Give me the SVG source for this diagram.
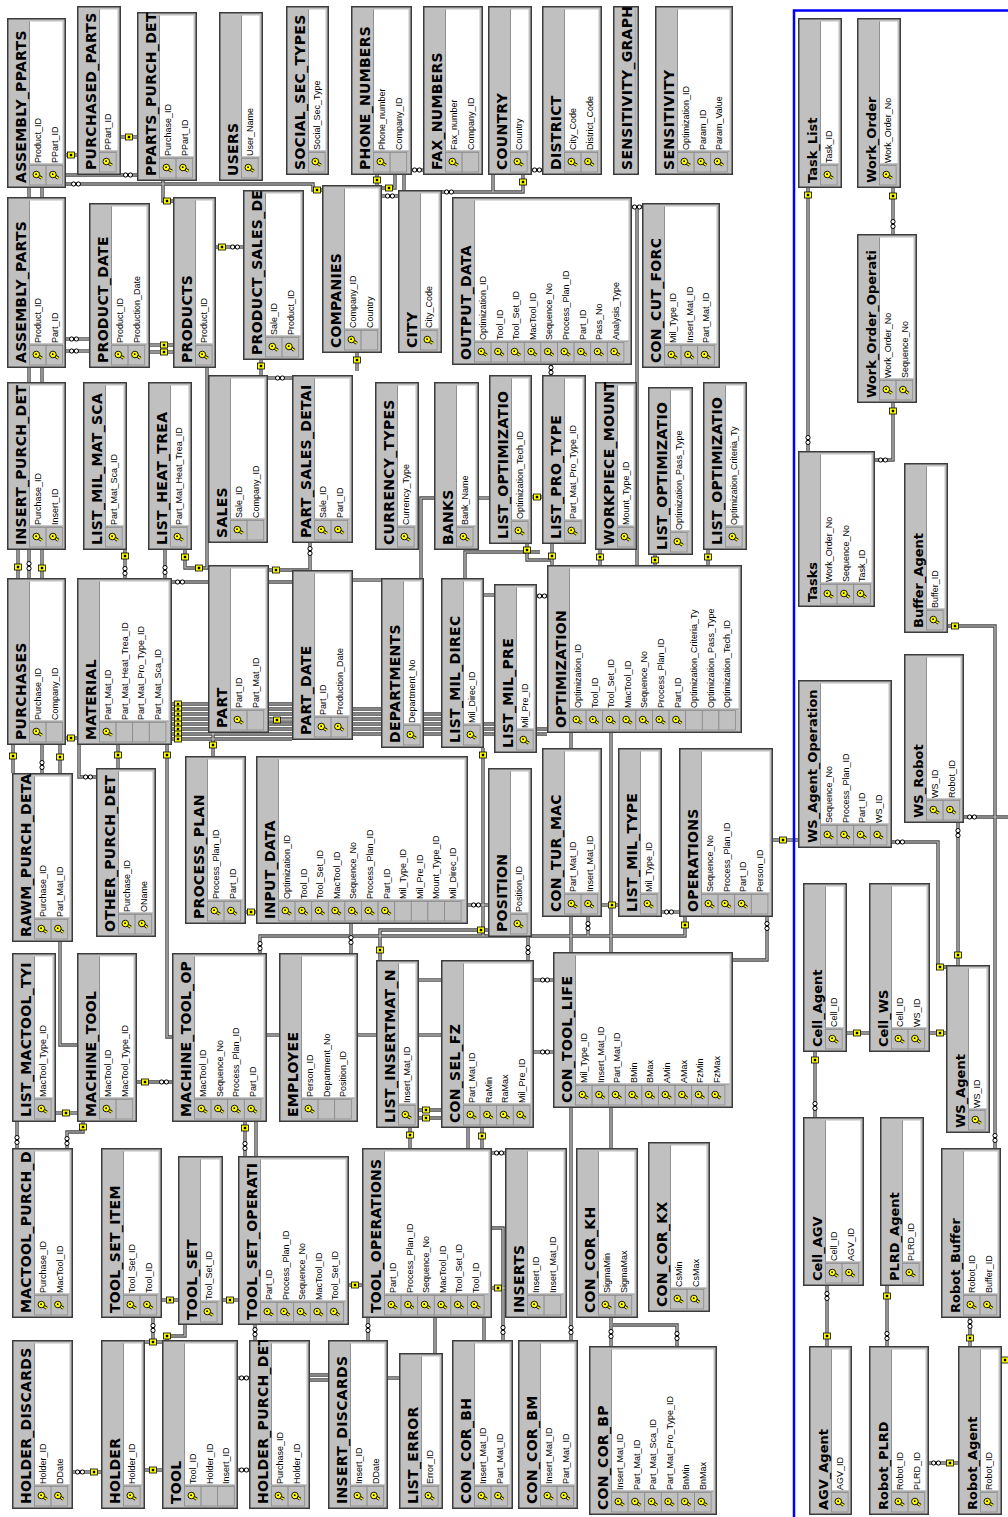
<svg xmlns="http://www.w3.org/2000/svg" xmlns:xlink="http://www.w3.org/1999/xlink" width="1008" height="1517" viewBox="0 0 1008 1517">
<defs>
<style>
.t text{font-family:"Liberation Sans",Arial,sans-serif;font-size:9px;fill:#000}
.t .tt{font-family:"DejaVu Sans",Verdana,sans-serif;font-size:14px;font-weight:bold;letter-spacing:.3px}
.t .tm{font-family:"DejaVu Sans",Verdana,sans-serif;font-size:13px;font-weight:bold}
.bg{fill:#c0c0c0}
.wp{fill:#fff;stroke:#909090;stroke-width:1}
.mg{fill:none;stroke:#c0c0c0;stroke-width:7}
.ol{fill:none;stroke:#3c3c3c;stroke-width:3}
.kc{fill:#c0c0c0;stroke:#8a8a8a;stroke-width:.8}
.eo{fill:none;stroke:#454545;stroke-width:3.4}
.ei{fill:none;stroke:#c8c8c8;stroke-width:1.2}
.sy circle{fill:#fff;stroke:#000;stroke-width:1}
</style>
<g id="fr"><rect class="bg" width="100%" height="100%"/><rect class="wp" x="24" y="22.5" width="100%" height="100%"/><rect class="mg" width="100%" height="100%"/><rect class="ol" width="100%" height="100%"/></g>
<g id="k"><path d="M1,-1.5 L-2.8,4" stroke="#000" stroke-width="3.2"/><path d="M1,-1.5 L-2.8,4" stroke="#ff0" stroke-width="1.5"/><circle cx="1" cy="-1.5" r="3.3" fill="#ff0" stroke="#000" stroke-width=".9"/><circle cx="1.3" cy="-1.7" r=".9" fill="#000"/></g>
<g id="r"><rect class="kc" x="3" width="19.5" height="16.6"/><use href="#k" x="12.5" y="8.3"/></g>
<rect id="e" class="kc" x="3" width="19.5" height="16.6"/>
<g id="ek"><rect x="-3.5" y="-3" width="7" height="6" fill="#ff0" stroke="#000" stroke-width=".8"/><rect x="-1.2" y="-1.2" width="2.4" height="2.4" fill="#000"/></g>
<g id="inf" class="sy"><circle cx="-2.4" r="2.1"/><circle cx="2.4" r="2.1"/></g>
<g id="infv" class="sy"><circle cy="-2.4" r="2.1"/><circle cy="2.4" r="2.1"/></g>
</defs>
<rect width="1008" height="1517" fill="#fff"/>
<g id="connectors">
<g class="eo"><g id="cp">
<path d="M121,137H137"/><path d="M66,155H77"/><path d="M66,175H137"/><path d="M66,184H313V190H322"/><path d="M163,181V201H173"/>
<path d="M29,188V578"/><path d="M42,188V578"/><path d="M66,339H89"/><path d="M66,351H89"/><path d="M150,345H173"/><path d="M150,352H173"/>
<path d="M216,247H243"/><path d="M261,360V375"/><path d="M268,378H292"/><path d="M207,368V568H185V550"/>
<path d="M377,175V185"/><path d="M382,188H395V175"/><path d="M382,196H398"/><path d="M404,175V190"/><path d="M412,170H423"/>
<path d="M442,192H523V175"/><path d="M493,175V192"/><path d="M532,170H542"/><path d="M632,207H642"/><path d="M637,207V565"/><path d="M551,365V375"/>
<path d="M18,550V578"/><path d="M125,550V578"/><path d="M165,550V578"/><path d="M172,582H292"/><path d="M269,570H310V543"/>
<path d="M172,704H292M172,709H381M172,714H441M172,719H441M172,724H494M172,729H547M172,734H547M172,739H292"/>
<path d="M269,720H292"/><path d="M66,738H77"/><path d="M434,498H421V578"/><path d="M479,498H489"/><path d="M532,497H542"/>
<path d="M527,544V560H552"/><path d="M552,544V565"/><path d="M600,550V565"/><path d="M465,578V552H540"/><path d="M708,550V565"/><path d="M655,555V565"/>
<path d="M537,596H547"/><path d="M484,595H494"/><path d="M353,580H381"/><path d="M357,353V371"/>
<path d="M13,745V773"/><path d="M42,745V773"/><path d="M60,745V773"/><path d="M118,745V768"/><path d="M167,745V1037H172"/><path d="M79,745V777H96"/>
<path d="M60,942V1045H77"/><path d="M137,1082H172"/><path d="M56,1113H77"/><path d="M17,1122V1148"/><path d="M83,1122V1132H67V1148"/>
<path d="M246,912H256"/><path d="M213,733V756"/><path d="M260,953V936H685V917"/><path d="M267,1035H279"/><path d="M245,1122V1156"/><path d="M256,1122V1156"/>
<path d="M468,905H488"/><path d="M488,930H380V960"/><path d="M528,937V960"/><path d="M483,748V936"/><path d="M602,905H618"/><path d="M588,917V936"/><path d="M662,912H679"/>
<path d="M571,733V1340"/><path d="M611,733V1346"/><path d="M419,1110H441M419,1118H441"/><path d="M534,980H553"/><path d="M534,1052H553"/><path d="M419,980H441"/><path d="M419,1035H441"/>
<path d="M358,1035H376"/><path d="M351,924V953"/><path d="M773,840H798"/><path d="M767,917V960H733"/>
<path d="M892,842H938V967H946"/><path d="M958,823V965"/><path d="M964,817H1008"/><path d="M948,626H995V1148"/><path d="M847,1033H869"/><path d="M930,1033H946"/>
<path d="M815,1052V1117"/><path d="M827,1286V1346"/><path d="M887,1286V1346"/><path d="M970,1318V1346"/><path d="M929,1463H958"/><path d="M1002,1360H1008"/>
<path d="M808,188V451"/><path d="M893,188V234"/><path d="M893,403V460H875"/>
<path d="M162,1300H178"/><path d="M223,1300H238"/><path d="M153,1318V1340"/><path d="M185,1325V1336H167V1340"/><path d="M145,1342H162"/><path d="M145,1470H162"/><path d="M73,1472H101"/>
<path d="M238,1378H249"/><path d="M238,1470H249"/><path d="M255,1325V1340"/><path d="M310,1375H328M310,1380H328"/><path d="M349,1285H362"/><path d="M368,1318V1340"/>
<path d="M435,1318V1353"/><path d="M388,1378H399"/><path d="M484,1318V1340"/><path d="M492,1153H505"/><path d="M492,1288H505"/><path d="M492,1228H503V1340"/>
<path d="M613,1325H677V1346"/><path d="M468,1128V1148"/><path d="M482,1128V1148"/><path d="M410,1128V1148"/>
</g></g>
<use href="#cp" class="ei"/>
<g id="ends">
<use href="#ek" x="129" y="137"/><use href="#ek" x="71" y="155"/><use href="#inf" x="128" y="175"/><use href="#inf" x="76" y="184"/><use href="#ek" x="317" y="190"/><use href="#ek" x="167" y="201"/>
<use href="#inf" x="74" y="339"/><use href="#inf" x="74" y="351"/><use href="#ek" x="164" y="345"/><use href="#ek" x="164" y="352"/><use href="#ek" x="222" y="247"/><use href="#inf" x="235" y="247"/>
<use href="#ek" x="261" y="366"/><use href="#inf" x="280" y="378"/><use href="#ek" x="199" y="568"/><use href="#ek" x="185" y="557"/>
<use href="#ek" x="377" y="180"/><use href="#ek" x="389" y="188"/><use href="#inf" x="390" y="196"/><use href="#inf" x="417" y="170"/><use href="#inf" x="449" y="192"/><use href="#ek" x="523" y="182"/>
<use href="#inf" x="537" y="170"/><use href="#inf" x="637" y="207"/><use href="#infv" x="551" y="370"/>
<use href="#ek" x="18" y="567"/><use href="#infv" x="29" y="566"/><use href="#ek" x="42" y="568"/><use href="#ek" x="125" y="556"/><use href="#infv" x="125" y="571"/><use href="#infv" x="165" y="570"/>
<use href="#inf" x="180" y="582"/><use href="#ek" x="276" y="570"/><use href="#infv" x="310" y="551"/>
<use href="#ek" x="178" y="704"/><use href="#ek" x="178" y="709"/><use href="#ek" x="178" y="714"/><use href="#ek" x="178" y="719"/><use href="#ek" x="178" y="724"/><use href="#ek" x="178" y="729"/><use href="#ek" x="178" y="734"/><use href="#ek" x="178" y="739"/>
<use href="#ek" x="277" y="720"/><use href="#ek" x="71" y="738"/><use href="#ek" x="537" y="497"/><use href="#ek" x="527" y="550"/><use href="#ek" x="552" y="556"/><use href="#ek" x="600" y="557"/><use href="#ek" x="708" y="557"/><use href="#ek" x="655" y="560"/>
<use href="#inf" x="542" y="596"/><use href="#ek" x="357" y="360"/>
<use href="#ek" x="13" y="756"/><use href="#infv" x="42" y="765"/><use href="#ek" x="60" y="757"/><use href="#ek" x="118" y="755"/><use href="#ek" x="167" y="755"/><use href="#inf" x="88" y="777"/>
<use href="#ek" x="145" y="1082"/><use href="#inf" x="164" y="1082"/><use href="#ek" x="66" y="1113"/><use href="#infv" x="17" y="1140"/><use href="#ek" x="83" y="1127"/><use href="#infv" x="67" y="1141"/>
<use href="#ek" x="251" y="912"/><use href="#ek" x="213" y="745"/><use href="#infv" x="260" y="946"/><use href="#ek" x="685" y="925"/><use href="#ek" x="245" y="1128"/><use href="#infv" x="245" y="1146"/>
<use href="#inf" x="476" y="905"/><use href="#ek" x="481" y="930"/><use href="#ek" x="380" y="950"/><use href="#infv" x="528" y="950"/><use href="#ek" x="483" y="755"/><use href="#ek" x="612" y="905"/><use href="#infv" x="588" y="926"/><use href="#inf" x="669" y="912"/>
<use href="#ek" x="426" y="1110"/><use href="#ek" x="426" y="1118"/><use href="#inf" x="545" y="980"/><use href="#inf" x="545" y="1052"/><use href="#infv" x="351" y="940"/>
<use href="#ek" x="783" y="840"/><use href="#infv" x="767" y="926"/><use href="#inf" x="900" y="842"/><use href="#ek" x="940" y="967"/><use href="#infv" x="958" y="833"/><use href="#ek" x="958" y="955"/><use href="#inf" x="972" y="817"/>
<use href="#ek" x="955" y="626"/><use href="#infv" x="995" y="1138"/><use href="#ek" x="857" y="1033"/><use href="#ek" x="940" y="1033"/>
<use href="#ek" x="815" y="1060"/><use href="#infv" x="815" y="1106"/><use href="#infv" x="827" y="1296"/><use href="#ek" x="827" y="1336"/><use href="#ek" x="887" y="1296"/><use href="#infv" x="887" y="1336"/>
<use href="#infv" x="970" y="1324"/><use href="#ek" x="970" y="1338"/><use href="#inf" x="936" y="1463"/><use href="#ek" x="950" y="1463"/><use href="#ek" x="1005" y="1360"/>
<use href="#ek" x="808" y="195"/><use href="#infv" x="808" y="440"/><use href="#ek" x="893" y="196"/><use href="#infv" x="893" y="224"/><use href="#ek" x="893" y="411"/><use href="#inf" x="883" y="460"/>
<use href="#ek" x="170" y="1300"/><use href="#ek" x="230" y="1300"/><use href="#infv" x="153" y="1328"/><use href="#ek" x="167" y="1336"/><use href="#ek" x="153" y="1342"/><use href="#ek" x="153" y="1470"/>
<use href="#inf" x="80" y="1472"/><use href="#ek" x="94" y="1472"/><use href="#inf" x="244" y="1378"/><use href="#inf" x="244" y="1470"/><use href="#infv" x="255" y="1332"/>
<use href="#ek" x="355" y="1285"/><use href="#infv" x="368" y="1328"/><use href="#inf" x="499" y="1153"/><use href="#ek" x="498" y="1288"/><use href="#infv" x="503" y="1330"/>
<use href="#infv" x="571" y="1330"/><use href="#infv" x="611" y="1334"/><use href="#infv" x="677" y="1336"/><use href="#ek" x="482" y="1136"/><use href="#ek" x="410" y="1135"/>
</g>
</g>
<rect id="blue-frame" x="794" y="10.5" width="240" height="1530" fill="none" stroke="#0000ff" stroke-width="2.5"/>
<g id="tables">
<g id="n-assembly-pparts" class="t" transform="translate(7,188) rotate(-90)"><svg width="170" height="59"><use href="#fr"/><text class="tt" x="5" y="19">ASSEMBLY_PPARTS</text><use href="#r" y="22.5"/><text x="25" y="34">Product_ID</text><use href="#r" y="39.1"/><text x="25" y="50.6">PPart_ID</text></svg></g>
<g id="n-purchased-parts" class="t" transform="translate(77,175) rotate(-90)"><svg width="169" height="44"><use href="#fr"/><text class="tt" x="5" y="19">PURCHASED_PARTS</text><use href="#r" y="22.5"/><text x="25" y="34">PPart_ID</text></svg></g>
<g id="n-pparts-purch-det" class="t" transform="translate(137,181) rotate(-90)"><svg width="169" height="60"><use href="#fr"/><text class="tt" x="5" y="19">PPARTS_PURCH_DET</text><use href="#r" y="22.5"/><text x="25" y="34">Purchase_ID</text><use href="#r" y="39.1"/><text x="25" y="50.6">PPart_ID</text></svg></g>
<g id="n-users" class="t" transform="translate(219,181) rotate(-90)"><svg width="169" height="44"><use href="#fr"/><text class="tt" x="5" y="19">USERS</text><use href="#r" y="22.5"/><text x="25" y="34">User_Name</text></svg></g>
<g id="n-social-sec-types" class="t" transform="translate(286,175) rotate(-90)"><svg width="169" height="43"><use href="#fr"/><text class="tt" x="5" y="19">SOCIAL_SEC_TYPES</text><use href="#r" y="22.5"/><text x="25" y="34">Social_Sec_Type</text></svg></g>
<g id="n-phone-numbers" class="t" transform="translate(351,175) rotate(-90)"><svg width="169" height="61"><use href="#fr"/><text class="tt" x="5" y="19">PHONE_NUMBERS</text><use href="#r" y="22.5"/><text x="25" y="34">Phone_number</text><use href="#e" y="39.1"/><text x="25" y="50.6">Company_ID</text></svg></g>
<g id="n-fax-numbers" class="t" transform="translate(423,175) rotate(-90)"><svg width="169" height="60"><use href="#fr"/><text class="tt" x="5" y="19">FAX_NUMBERS</text><use href="#r" y="22.5"/><text x="25" y="34">Fax_number</text><use href="#e" y="39.1"/><text x="25" y="50.6">Company_ID</text></svg></g>
<g id="n-country" class="t" transform="translate(488,175) rotate(-90)"><svg width="169" height="44"><use href="#fr"/><text class="tt" x="5" y="19">COUNTRY</text><use href="#r" y="22.5"/><text x="25" y="34">Country</text></svg></g>
<g id="n-district" class="t" transform="translate(542,175) rotate(-90)"><svg width="169" height="60"><use href="#fr"/><text class="tt" x="5" y="19">DISTRICT</text><use href="#r" y="22.5"/><text x="25" y="34">City_Code</text><use href="#r" y="39.1"/><text x="25" y="50.6">District_Code</text></svg></g>
<g id="n-sensitivity-graph" class="t" transform="translate(613,175) rotate(-90)"><svg width="169" height="26"><use href="#fr"/><text class="tt" x="5" y="19">SENSITIVITY_GRAPH</text></svg></g>
<g id="n-sensitivity" class="t" transform="translate(655,175) rotate(-90)"><svg width="169" height="78"><use href="#fr"/><text class="tt" x="5" y="19">SENSITIVITY</text><use href="#r" y="22.5"/><text x="25" y="34">Optimization_ID</text><use href="#r" y="39.1"/><text x="25" y="50.6">Param_ID</text><use href="#r" y="55.7"/><text x="25" y="67.2">Param_Value</text></svg></g>
<g id="n-assembly-parts" class="t" transform="translate(7,368) rotate(-90)"><svg width="171" height="59"><use href="#fr"/><text class="tt" x="5" y="19">ASSEMBLY_PARTS</text><use href="#r" y="22.5"/><text x="25" y="34">Product_ID</text><use href="#r" y="39.1"/><text x="25" y="50.6">Part_ID</text></svg></g>
<g id="n-product-date" class="t" transform="translate(89,368) rotate(-90)"><svg width="165" height="61"><use href="#fr"/><text class="tt" x="5" y="19">PRODUCT_DATE</text><use href="#r" y="22.5"/><text x="25" y="34">Product_ID</text><use href="#r" y="39.1"/><text x="25" y="50.6">Production_Date</text></svg></g>
<g id="n-products" class="t" transform="translate(173,368) rotate(-90)"><svg width="171" height="43"><use href="#fr"/><text class="tt" x="5" y="19">PRODUCTS</text><use href="#r" y="22.5"/><text x="25" y="34">Product_ID</text></svg></g>
<g id="n-product-sales-detail" class="t" transform="translate(243,360) rotate(-90)"><svg width="170" height="61"><use href="#fr"/><text class="tt" x="5" y="19">PRODUCT_SALES_DE</text><use href="#r" y="22.5"/><text x="25" y="34">Sale_ID</text><use href="#r" y="39.1"/><text x="25" y="50.6">Product_ID</text></svg></g>
<g id="n-companies" class="t" transform="translate(322,353) rotate(-90)"><svg width="168" height="60"><use href="#fr"/><text class="tt" x="5" y="19">COMPANIES</text><use href="#r" y="22.5"/><text x="25" y="34">Company_ID</text><use href="#e" y="39.1"/><text x="25" y="50.6">Country</text></svg></g>
<g id="n-city" class="t" transform="translate(398,353) rotate(-90)"><svg width="163" height="44"><use href="#fr"/><text class="tt" x="5" y="19">CITY</text><use href="#r" y="22.5"/><text x="25" y="34">City_Code</text></svg></g>
<g id="n-output-data" class="t" transform="translate(452,365) rotate(-90)"><svg width="168" height="180"><use href="#fr"/><text class="tt" x="5" y="19">OUTPUT_DATA</text><use href="#r" y="22.5"/><text x="25" y="34">Optimization_ID</text><use href="#r" y="39.1"/><text x="25" y="50.6">Tool_ID</text><use href="#r" y="55.7"/><text x="25" y="67.2">Tool_Set_ID</text><use href="#r" y="72.3"/><text x="25" y="83.8">MacTool_ID</text><use href="#r" y="88.9"/><text x="25" y="100.4">Sequence_No</text><use href="#r" y="105.5"/><text x="25" y="117">Process_Plan_ID</text><use href="#r" y="122.1"/><text x="25" y="133.6">Part_ID</text><use href="#r" y="138.7"/><text x="25" y="150.2">Pass_No</text><use href="#r" y="155.3"/><text x="25" y="166.8">Analysis_Type</text></svg></g>
<g id="n-con-cut-forc" class="t" transform="translate(642,368) rotate(-90)"><svg width="165" height="78"><use href="#fr"/><text class="tt" x="5" y="19">CON_CUT_FORC</text><use href="#r" y="22.5"/><text x="25" y="34">Mil_Type_ID</text><use href="#r" y="39.1"/><text x="25" y="50.6">Insert_Mat_ID</text><use href="#r" y="55.7"/><text x="25" y="67.2">Part_Mat_ID</text></svg></g>
<g id="n-insert-purch-det" class="t" transform="translate(7,550) rotate(-90)"><svg width="168" height="59"><use href="#fr"/><text class="tt" x="5" y="19">INSERT_PURCH_DET</text><use href="#r" y="22.5"/><text x="25" y="34">Purchase_ID</text><use href="#r" y="39.1"/><text x="25" y="50.6">Insert_ID</text></svg></g>
<g id="n-list-mil-mat-sca" class="t" transform="translate(83,550) rotate(-90)"><svg width="168" height="44"><use href="#fr"/><text class="tt" x="5" y="19">LIST_MIL_MAT_SCA</text><use href="#r" y="22.5"/><text x="25" y="34">Part_Mat_Sca_ID</text></svg></g>
<g id="n-list-heat-trea" class="t" transform="translate(148,550) rotate(-90)"><svg width="168" height="44"><use href="#fr"/><text class="tt" x="5" y="19">LIST_HEAT_TREA</text><use href="#r" y="22.5"/><text x="25" y="34">Part_Mat_Heat_Trea_ID</text></svg></g>
<g id="n-sales" class="t" transform="translate(208,543) rotate(-90)"><svg width="168" height="60"><use href="#fr"/><text class="tt" x="5" y="19">SALES</text><use href="#r" y="22.5"/><text x="25" y="34">Sale_ID</text><use href="#e" y="39.1"/><text x="25" y="50.6">Company_ID</text></svg></g>
<g id="n-part-sales-detail" class="t" transform="translate(292,543) rotate(-90)"><svg width="168" height="61"><use href="#fr"/><text class="tt" x="5" y="19">PART_SALES_DETAI</text><use href="#r" y="22.5"/><text x="25" y="34">Sale_ID</text><use href="#r" y="39.1"/><text x="25" y="50.6">Part_ID</text></svg></g>
<g id="n-currency-types" class="t" transform="translate(375,550) rotate(-90)"><svg width="168" height="44"><use href="#fr"/><text class="tt" x="5" y="19">CURRENCY_TYPES</text><use href="#r" y="22.5"/><text x="25" y="34">Currency_Type</text></svg></g>
<g id="n-banks" class="t" transform="translate(434,550) rotate(-90)"><svg width="168" height="45"><use href="#fr"/><text class="tt" x="5" y="19">BANKS</text><use href="#r" y="22.5"/><text x="25" y="34">Bank_Name</text></svg></g>
<g id="n-list-optimization-tech" class="t" transform="translate(489,544) rotate(-90)"><svg width="169" height="43"><use href="#fr"/><text class="tt" x="5" y="19">LIST_OPTIMIZATIO</text><use href="#r" y="22.5"/><text x="25" y="34">Optimization_Tech_ID</text></svg></g>
<g id="n-list-pro-type" class="t" transform="translate(542,544) rotate(-90)"><svg width="169" height="44"><use href="#fr"/><text class="tt" x="5" y="19">LIST_PRO_TYPE</text><use href="#r" y="22.5"/><text x="25" y="34">Part_Mat_Pro_Type_ID</text></svg></g>
<g id="n-workpiece-mount" class="t" transform="translate(595,550) rotate(-90)"><svg width="168" height="42"><use href="#fr"/><text class="tt" x="5" y="19">WORKPIECE_MOUNT</text><use href="#r" y="22.5"/><text x="25" y="34">Mount_Type_ID</text></svg></g>
<g id="n-list-optimization-pass" class="t" transform="translate(648,555) rotate(-90)"><svg width="168" height="45"><use href="#fr"/><text class="tt" x="5" y="19">LIST_OPTIMIZATIO</text><use href="#r" y="22.5"/><text x="25" y="34">Optimization_Pass_Type</text></svg></g>
<g id="n-list-optimization-criteria" class="t" transform="translate(703,550) rotate(-90)"><svg width="168" height="44"><use href="#fr"/><text class="tt" x="5" y="19">LIST_OPTIMIZATIO</text><use href="#r" y="22.5"/><text x="25" y="34">Optimization_Criteria_Ty</text></svg></g>
<g id="n-purchases" class="t" transform="translate(7,745) rotate(-90)"><svg width="167" height="59"><use href="#fr"/><text class="tt" x="5" y="19">PURCHASES</text><use href="#r" y="22.5"/><text x="25" y="34">Purchase_ID</text><use href="#e" y="39.1"/><text x="25" y="50.6">Company_ID</text></svg></g>
<g id="n-material" class="t" transform="translate(77,745) rotate(-90)"><svg width="167" height="95"><use href="#fr"/><text class="tt" x="5" y="19">MATERIAL</text><use href="#r" y="22.5"/><text x="25" y="34">Part_Mat_ID</text><use href="#e" y="39.1"/><text x="25" y="50.6">Part_Mat_Heat_Trea_ID</text><use href="#e" y="55.7"/><text x="25" y="67.2">Part_Mat_Pro_Type_ID</text><use href="#e" y="72.3"/><text x="25" y="83.8">Part_Mat_Sca_ID</text></svg></g>
<g id="n-part" class="t" transform="translate(208,733) rotate(-90)"><svg width="168" height="61"><use href="#fr"/><text class="tt" x="5" y="19">PART</text><use href="#r" y="22.5"/><text x="25" y="34">Part_ID</text><use href="#e" y="39.1"/><text x="25" y="50.6">Part_Mat_ID</text></svg></g>
<g id="n-part-date" class="t" transform="translate(292,740) rotate(-90)"><svg width="170" height="61"><use href="#fr"/><text class="tt" x="5" y="19">PART_DATE</text><use href="#r" y="22.5"/><text x="25" y="34">Part_ID</text><use href="#r" y="39.1"/><text x="25" y="50.6">Production_Date</text></svg></g>
<g id="n-departments" class="t" transform="translate(381,748) rotate(-90)"><svg width="170" height="43"><use href="#fr"/><text class="tt" x="5" y="19">DEPARTMENTS</text><use href="#r" y="22.5"/><text x="25" y="34">Department_No</text></svg></g>
<g id="n-list-mil-direc" class="t" transform="translate(441,748) rotate(-90)"><svg width="170" height="43"><use href="#fr"/><text class="tt" x="5" y="19">LIST_MIL_DIREC</text><use href="#r" y="22.5"/><text x="25" y="34">Mil_Direc_ID</text></svg></g>
<g id="n-list-mil-pre" class="t" transform="translate(494,753) rotate(-90)"><svg width="169" height="43"><use href="#fr"/><text class="tt" x="5" y="19">LIST_MIL_PRE</text><use href="#r" y="22.5"/><text x="25" y="34">Mil_Pre_ID</text></svg></g>
<g id="n-optimization" class="t" transform="translate(547,733) rotate(-90)"><svg width="168" height="195"><use href="#fr"/><text class="tt" x="5" y="19">OPTIMIZATION</text><use href="#r" y="22.5"/><text x="25" y="34">Optimization_ID</text><use href="#r" y="39.1"/><text x="25" y="50.6">Tool_ID</text><use href="#r" y="55.7"/><text x="25" y="67.2">Tool_Set_ID</text><use href="#r" y="72.3"/><text x="25" y="83.8">MacTool_ID</text><use href="#r" y="88.9"/><text x="25" y="100.4">Sequence_No</text><use href="#r" y="105.5"/><text x="25" y="117">Process_Plan_ID</text><use href="#r" y="122.1"/><text x="25" y="133.6">Part_ID</text><use href="#e" y="138.7"/><text x="25" y="150.2">Optimization_Criteria_Ty</text><use href="#e" y="155.3"/><text x="25" y="166.8">Optimization_Pass_Type</text><use href="#e" y="171.9"/><text x="25" y="183.4">Optimization_Tech_ID</text></svg></g>
<g id="n-rawm-purch-detail" class="t" transform="translate(12,942) rotate(-90)"><svg width="169" height="61"><use href="#fr"/><text class="tt" x="5" y="19">RAWM_PURCH_DETA</text><use href="#r" y="22.5"/><text x="25" y="34">Purchase_ID</text><use href="#r" y="39.1"/><text x="25" y="50.6">Part_Mat_ID</text></svg></g>
<g id="n-other-purch-detail" class="t" transform="translate(96,937) rotate(-90)"><svg width="169" height="60"><use href="#fr"/><text class="tt" x="5" y="19">OTHER_PURCH_DET</text><use href="#r" y="22.5"/><text x="25" y="34">Purchase_ID</text><use href="#r" y="39.1"/><text x="25" y="50.6">OName</text></svg></g>
<g id="n-process-plan" class="t" transform="translate(185,924) rotate(-90)"><svg width="168" height="61"><use href="#fr"/><text class="tt" x="5" y="19">PROCESS_PLAN</text><use href="#r" y="22.5"/><text x="25" y="34">Process_Plan_ID</text><use href="#r" y="39.1"/><text x="25" y="50.6">Part_ID</text></svg></g>
<g id="n-input-data" class="t" transform="translate(256,924) rotate(-90)"><svg width="168" height="212"><use href="#fr"/><text class="tt" x="5" y="19">INPUT_DATA</text><use href="#r" y="22.5"/><text x="25" y="34">Optimization_ID</text><use href="#r" y="39.1"/><text x="25" y="50.6">Tool_ID</text><use href="#r" y="55.7"/><text x="25" y="67.2">Tool_Set_ID</text><use href="#r" y="72.3"/><text x="25" y="83.8">MacTool_ID</text><use href="#r" y="88.9"/><text x="25" y="100.4">Sequence_No</text><use href="#r" y="105.5"/><text x="25" y="117">Process_Plan_ID</text><use href="#r" y="122.1"/><text x="25" y="133.6">Part_ID</text><use href="#e" y="138.7"/><text x="25" y="150.2">Mil_Type_ID</text><use href="#e" y="155.3"/><text x="25" y="166.8">Mil_Pre_ID</text><use href="#e" y="171.9"/><text x="25" y="183.4">Mount_Type_ID</text><use href="#e" y="188.5"/><text x="25" y="200">Mil_Direc_ID</text></svg></g>
<g id="n-position" class="t" transform="translate(488,937) rotate(-90)"><svg width="169" height="44"><use href="#fr"/><text class="tt" x="5" y="19">POSITION</text><use href="#r" y="22.5"/><text x="25" y="34">Position_ID</text></svg></g>
<g id="n-con-tur-mac" class="t" transform="translate(542,917) rotate(-90)"><svg width="169" height="60"><use href="#fr"/><text class="tt" x="5" y="19">CON_TUR_MAC</text><use href="#r" y="22.5"/><text x="25" y="34">Part_Mat_ID</text><use href="#r" y="39.1"/><text x="25" y="50.6">Insert_Mat_ID</text></svg></g>
<g id="n-list-mil-type" class="t" transform="translate(618,917) rotate(-90)"><svg width="169" height="44"><use href="#fr"/><text class="tt" x="5" y="19">LIST_MIL_TYPE</text><use href="#r" y="22.5"/><text x="25" y="34">Mil_Type_ID</text></svg></g>
<g id="n-operations" class="t" transform="translate(679,917) rotate(-90)"><svg width="169" height="94"><use href="#fr"/><text class="tt" x="5" y="19">OPERATIONS</text><use href="#r" y="22.5"/><text x="25" y="34">Sequence_No</text><use href="#r" y="39.1"/><text x="25" y="50.6">Process_Plan_ID</text><use href="#r" y="55.7"/><text x="25" y="67.2">Part_ID</text><use href="#e" y="72.3"/><text x="25" y="83.8">Person_ID</text></svg></g>
<g id="n-list-mactool-type" class="t" transform="translate(12,1122) rotate(-90)"><svg width="169" height="44"><use href="#fr"/><text class="tt" x="5" y="19">LIST_MACTOOL_TYI</text><use href="#r" y="22.5"/><text x="25" y="34">MacTool_Type_ID</text></svg></g>
<g id="n-machine-tool" class="t" transform="translate(77,1122) rotate(-90)"><svg width="169" height="60"><use href="#fr"/><text class="tt" x="5" y="19">MACHINE_TOOL</text><use href="#r" y="22.5"/><text x="25" y="34">MacTool_ID</text><use href="#e" y="39.1"/><text x="25" y="50.6">MacTool_Type_ID</text></svg></g>
<g id="n-machine-tool-op" class="t" transform="translate(172,1122) rotate(-90)"><svg width="169" height="95"><use href="#fr"/><text class="tt" x="5" y="19">MACHINE_TOOL_OP</text><use href="#r" y="22.5"/><text x="25" y="34">MacTool_ID</text><use href="#r" y="39.1"/><text x="25" y="50.6">Sequence_No</text><use href="#r" y="55.7"/><text x="25" y="67.2">Process_Plan_ID</text><use href="#r" y="72.3"/><text x="25" y="83.8">Part_ID</text></svg></g>
<g id="n-employee" class="t" transform="translate(279,1122) rotate(-90)"><svg width="169" height="79"><use href="#fr"/><text class="tt" x="5" y="19">EMPLOYEE</text><use href="#r" y="22.5"/><text x="25" y="34">Person_ID</text><use href="#e" y="39.1"/><text x="25" y="50.6">Department_No</text><use href="#e" y="55.7"/><text x="25" y="67.2">Position_ID</text></svg></g>
<g id="n-list-insertmat-no" class="t" transform="translate(376,1128) rotate(-90)"><svg width="168" height="43"><use href="#fr"/><text class="tt" x="5" y="19">LIST_INSERTMAT_N</text><use href="#r" y="22.5"/><text x="25" y="34">Insert_Mat_ID</text></svg></g>
<g id="n-con-sel-fz" class="t" transform="translate(441,1128) rotate(-90)"><svg width="168" height="93"><use href="#fr"/><text class="tt" x="5" y="19">CON_SEL_FZ</text><use href="#r" y="22.5"/><text x="25" y="34">Part_Mat_ID</text><use href="#r" y="39.1"/><text x="25" y="50.6">RaMin</text><use href="#r" y="55.7"/><text x="25" y="67.2">RaMax</text><use href="#r" y="72.3"/><text x="25" y="83.8">Mil_Pre_ID</text></svg></g>
<g id="n-con-tool-life" class="t" transform="translate(553,1108) rotate(-90)"><svg width="156" height="180"><use href="#fr"/><text class="tt" x="5" y="19">CON_TOOL_LIFE</text><use href="#r" y="22.5"/><text x="25" y="34">Mil_Type_ID</text><use href="#r" y="39.1"/><text x="25" y="50.6">Insert_Mat_ID</text><use href="#r" y="55.7"/><text x="25" y="67.2">Part_Mat_ID</text><use href="#r" y="72.3"/><text x="25" y="83.8">BMin</text><use href="#r" y="88.9"/><text x="25" y="100.4">BMax</text><use href="#r" y="105.5"/><text x="25" y="117">AMin</text><use href="#r" y="122.1"/><text x="25" y="133.6">AMax</text><use href="#r" y="138.7"/><text x="25" y="150.2">FzMin</text><use href="#r" y="155.3"/><text x="25" y="166.8">FzMax</text></svg></g>
<g id="n-mactool-purch-det" class="t" transform="translate(12,1318) rotate(-90)"><svg width="170" height="61"><use href="#fr"/><text class="tt" x="5" y="19">MACTOOL_PURCH_D</text><use href="#r" y="22.5"/><text x="25" y="34">Purchase_ID</text><use href="#r" y="39.1"/><text x="25" y="50.6">MacTool_ID</text></svg></g>
<g id="n-tool-set-item" class="t" transform="translate(101,1318) rotate(-90)"><svg width="170" height="61"><use href="#fr"/><text class="tt" x="5" y="19">TOOL_SET_ITEM</text><use href="#r" y="22.5"/><text x="25" y="34">Tool_Set_ID</text><use href="#r" y="39.1"/><text x="25" y="50.6">Tool_ID</text></svg></g>
<g id="n-tool-set" class="t" transform="translate(178,1325) rotate(-90)"><svg width="169" height="45"><use href="#fr"/><text class="tt" x="5" y="19">TOOL_SET</text><use href="#r" y="22.5"/><text x="25" y="34">Tool_Set_ID</text></svg></g>
<g id="n-tool-set-operation" class="t" transform="translate(238,1325) rotate(-90)"><svg width="169" height="111"><use href="#fr"/><text class="tt" x="5" y="19">TOOL_SET_OPERATI</text><use href="#r" y="22.5"/><text x="25" y="34">Part_ID</text><use href="#r" y="39.1"/><text x="25" y="50.6">Process_Plan_ID</text><use href="#r" y="55.7"/><text x="25" y="67.2">Sequence_No</text><use href="#r" y="72.3"/><text x="25" y="83.8">MacTool_ID</text><use href="#r" y="88.9"/><text x="25" y="100.4">Tool_Set_ID</text></svg></g>
<g id="n-tool-operations" class="t" transform="translate(362,1318) rotate(-90)"><svg width="170" height="130"><use href="#fr"/><text class="tt" x="5" y="19">TOOL_OPERATIONS</text><use href="#r" y="22.5"/><text x="25" y="34">Part_ID</text><use href="#r" y="39.1"/><text x="25" y="50.6">Process_Plan_ID</text><use href="#r" y="55.7"/><text x="25" y="67.2">Sequence_No</text><use href="#r" y="72.3"/><text x="25" y="83.8">MacTool_ID</text><use href="#r" y="88.9"/><text x="25" y="100.4">Tool_Set_ID</text><use href="#r" y="105.5"/><text x="25" y="117">Tool_ID</text></svg></g>
<g id="n-inserts" class="t" transform="translate(505,1318) rotate(-90)"><svg width="170" height="62"><use href="#fr"/><text class="tt" x="5" y="19">INSERTS</text><use href="#r" y="22.5"/><text x="25" y="34">Insert_ID</text><use href="#e" y="39.1"/><text x="25" y="50.6">Insert_Mat_ID</text></svg></g>
<g id="n-con-cor-kh" class="t" transform="translate(576,1318) rotate(-90)"><svg width="170" height="62"><use href="#fr"/><text class="tt" x="5" y="19">CON_COR_KH</text><use href="#r" y="22.5"/><text x="25" y="34">SigmaMin</text><use href="#r" y="39.1"/><text x="25" y="50.6">SigmaMax</text></svg></g>
<g id="n-con-cor-kx" class="t" transform="translate(648,1312) rotate(-90)"><svg width="170" height="62"><use href="#fr"/><text class="tt" x="5" y="19">CON_COR_KX</text><use href="#r" y="22.5"/><text x="25" y="34">CsMin</text><use href="#r" y="39.1"/><text x="25" y="50.6">CsMax</text></svg></g>
<g id="n-holder-discards" class="t" transform="translate(12,1509) rotate(-90)"><svg width="169" height="61"><use href="#fr"/><text class="tt" x="5" y="19">HOLDER_DISCARDS</text><use href="#r" y="22.5"/><text x="25" y="34">Holder_ID</text><use href="#r" y="39.1"/><text x="25" y="50.6">DDate</text></svg></g>
<g id="n-holder" class="t" transform="translate(101,1509) rotate(-90)"><svg width="169" height="44"><use href="#fr"/><text class="tt" x="5" y="19">HOLDER</text><use href="#r" y="22.5"/><text x="25" y="34">Holder_ID</text></svg></g>
<g id="n-tool" class="t" transform="translate(162,1509) rotate(-90)"><svg width="169" height="76"><use href="#fr"/><text class="tt" x="5" y="19">TOOL</text><use href="#r" y="22.5"/><text x="25" y="34">Tool_ID</text><use href="#e" y="39.1"/><text x="25" y="50.6">Holder_ID</text><use href="#e" y="55.7"/><text x="25" y="67.2">Insert_ID</text></svg></g>
<g id="n-holder-purch-det" class="t" transform="translate(249,1509) rotate(-90)"><svg width="169" height="61"><use href="#fr"/><text class="tt" x="5" y="19">HOLDER_PURCH_DET</text><use href="#r" y="22.5"/><text x="25" y="34">Purchase_ID</text><use href="#r" y="39.1"/><text x="25" y="50.6">Holder_ID</text></svg></g>
<g id="n-insert-discards" class="t" transform="translate(328,1509) rotate(-90)"><svg width="169" height="60"><use href="#fr"/><text class="tt" x="5" y="19">INSERT_DISCARDS</text><use href="#r" y="22.5"/><text x="25" y="34">Insert_ID</text><use href="#r" y="39.1"/><text x="25" y="50.6">DDate</text></svg></g>
<g id="n-list-error" class="t" transform="translate(399,1509) rotate(-90)"><svg width="156" height="44"><use href="#fr"/><text class="tt" x="5" y="19">LIST_ERROR</text><use href="#r" y="22.5"/><text x="25" y="34">Error_ID</text></svg></g>
<g id="n-con-cor-bh" class="t" transform="translate(452,1509) rotate(-90)"><svg width="169" height="61"><use href="#fr"/><text class="tt" x="5" y="19">CON_COR_BH</text><use href="#r" y="22.5"/><text x="25" y="34">Insert_Mat_ID</text><use href="#r" y="39.1"/><text x="25" y="50.6">Part_Mat_ID</text></svg></g>
<g id="n-con-cor-bm" class="t" transform="translate(518,1509) rotate(-90)"><svg width="169" height="60"><use href="#fr"/><text class="tt" x="5" y="19">CON_COR_BM</text><use href="#r" y="22.5"/><text x="25" y="34">Insert_Mat_ID</text><use href="#r" y="39.1"/><text x="25" y="50.6">Part_Mat_ID</text></svg></g>
<g id="n-con-cor-bp" class="t" transform="translate(589,1515) rotate(-90)"><svg width="169" height="128"><use href="#fr"/><text class="tt" x="5" y="19">CON_COR_BP</text><use href="#r" y="22.5"/><text x="25" y="34">Insert_Mat_ID</text><use href="#r" y="39.1"/><text x="25" y="50.6">Part_Mat_ID</text><use href="#r" y="55.7"/><text x="25" y="67.2">Part_Mat_Sca_ID</text><use href="#r" y="72.3"/><text x="25" y="83.8">Part_Mat_Pro_Type_ID</text><use href="#r" y="88.9"/><text x="25" y="100.4">BnMin</text><use href="#r" y="105.5"/><text x="25" y="117">BnMax</text></svg></g>
<g id="n-task-list" class="t" transform="translate(798,188) rotate(-90)"><svg width="170" height="44"><use href="#fr"/><text class="tm" x="5" y="19">Task_List</text><use href="#r" y="22.5"/><text x="25" y="34">Task_ID</text></svg></g>
<g id="n-work-order" class="t" transform="translate(857,188) rotate(-90)"><svg width="170" height="44"><use href="#fr"/><text class="tm" x="5" y="19">Work_Order</text><use href="#r" y="22.5"/><text x="25" y="34">Work_Order_No</text></svg></g>
<g id="n-work-order-operation" class="t" transform="translate(857,403) rotate(-90)"><svg width="169" height="60"><use href="#fr"/><text class="tm" x="5" y="19">Work_Order_Operati</text><use href="#r" y="22.5"/><text x="25" y="34">Work_Order_No</text><use href="#r" y="39.1"/><text x="25" y="50.6">Sequence_No</text></svg></g>
<g id="n-tasks" class="t" transform="translate(798,607) rotate(-90)"><svg width="156" height="77"><use href="#fr"/><text class="tm" x="5" y="19">Tasks</text><use href="#r" y="22.5"/><text x="25" y="34">Work_Order_No</text><use href="#r" y="39.1"/><text x="25" y="50.6">Sequence_No</text><use href="#r" y="55.7"/><text x="25" y="67.2">Task_ID</text></svg></g>
<g id="n-buffer-agent" class="t" transform="translate(904,633) rotate(-90)"><svg width="170" height="44"><use href="#fr"/><text class="tm" x="5" y="19">Buffer_Agent</text><use href="#r" y="22.5"/><text x="25" y="34">Buffer_ID</text></svg></g>
<g id="n-ws-agent-operation" class="t" transform="translate(798,848) rotate(-90)"><svg width="168" height="94"><use href="#fr"/><text class="tm" x="5" y="19">WS_Agent_Operation</text><use href="#r" y="22.5"/><text x="25" y="34">Sequence_No</text><use href="#r" y="39.1"/><text x="25" y="50.6">Process_Plan_ID</text><use href="#r" y="55.7"/><text x="25" y="67.2">Part_ID</text><use href="#r" y="72.3"/><text x="25" y="83.8">WS_ID</text></svg></g>
<g id="n-ws-robot" class="t" transform="translate(904,823) rotate(-90)"><svg width="169" height="60"><use href="#fr"/><text class="tm" x="5" y="19">WS_Robot</text><use href="#r" y="22.5"/><text x="25" y="34">WS_ID</text><use href="#r" y="39.1"/><text x="25" y="50.6">Robot_ID</text></svg></g>
<g id="n-cell-agent" class="t" transform="translate(803,1052) rotate(-90)"><svg width="169" height="44"><use href="#fr"/><text class="tm" x="5" y="19">Cell_Agent</text><use href="#r" y="22.5"/><text x="25" y="34">Cell_ID</text></svg></g>
<g id="n-cell-ws" class="t" transform="translate(869,1052) rotate(-90)"><svg width="169" height="61"><use href="#fr"/><text class="tm" x="5" y="19">Cell_WS</text><use href="#r" y="22.5"/><text x="25" y="34">Cell_ID</text><use href="#r" y="39.1"/><text x="25" y="50.6">WS_ID</text></svg></g>
<g id="n-ws-agent" class="t" transform="translate(946,1133) rotate(-90)"><svg width="168" height="44"><use href="#fr"/><text class="tm" x="5" y="19">WS_Agent</text><use href="#r" y="22.5"/><text x="25" y="34">WS_ID</text></svg></g>
<g id="n-cell-agv" class="t" transform="translate(803,1286) rotate(-90)"><svg width="169" height="61"><use href="#fr"/><text class="tm" x="5" y="19">Cell_AGV</text><use href="#r" y="22.5"/><text x="25" y="34">Cell_ID</text><use href="#r" y="39.1"/><text x="25" y="50.6">AGV_ID</text></svg></g>
<g id="n-plrd-agent" class="t" transform="translate(880,1286) rotate(-90)"><svg width="169" height="44"><use href="#fr"/><text class="tm" x="5" y="19">PLRD_Agent</text><use href="#r" y="22.5"/><text x="25" y="34">PLRD_ID</text></svg></g>
<g id="n-robot-buffer" class="t" transform="translate(941,1318) rotate(-90)"><svg width="170" height="60"><use href="#fr"/><text class="tm" x="5" y="19">Robot_Buffer</text><use href="#r" y="22.5"/><text x="25" y="34">Robot_ID</text><use href="#r" y="39.1"/><text x="25" y="50.6">Buffer_ID</text></svg></g>
<g id="n-agv-agent" class="t" transform="translate(809,1515) rotate(-90)"><svg width="169" height="43"><use href="#fr"/><text class="tm" x="5" y="19">AGV_Agent</text><use href="#r" y="22.5"/><text x="25" y="34">AGV_ID</text></svg></g>
<g id="n-robot-plrd" class="t" transform="translate(869,1515) rotate(-90)"><svg width="169" height="60"><use href="#fr"/><text class="tm" x="5" y="19">Robot_PLRD</text><use href="#r" y="22.5"/><text x="25" y="34">Robot_ID</text><use href="#r" y="39.1"/><text x="25" y="50.6">PLRD_ID</text></svg></g>
<g id="n-robot-agent" class="t" transform="translate(958,1515) rotate(-90)"><svg width="169" height="44"><use href="#fr"/><text class="tm" x="5" y="19">Robot_Agent</text><use href="#r" y="22.5"/><text x="25" y="34">Robot_ID</text></svg></g>
</g>
</svg>
